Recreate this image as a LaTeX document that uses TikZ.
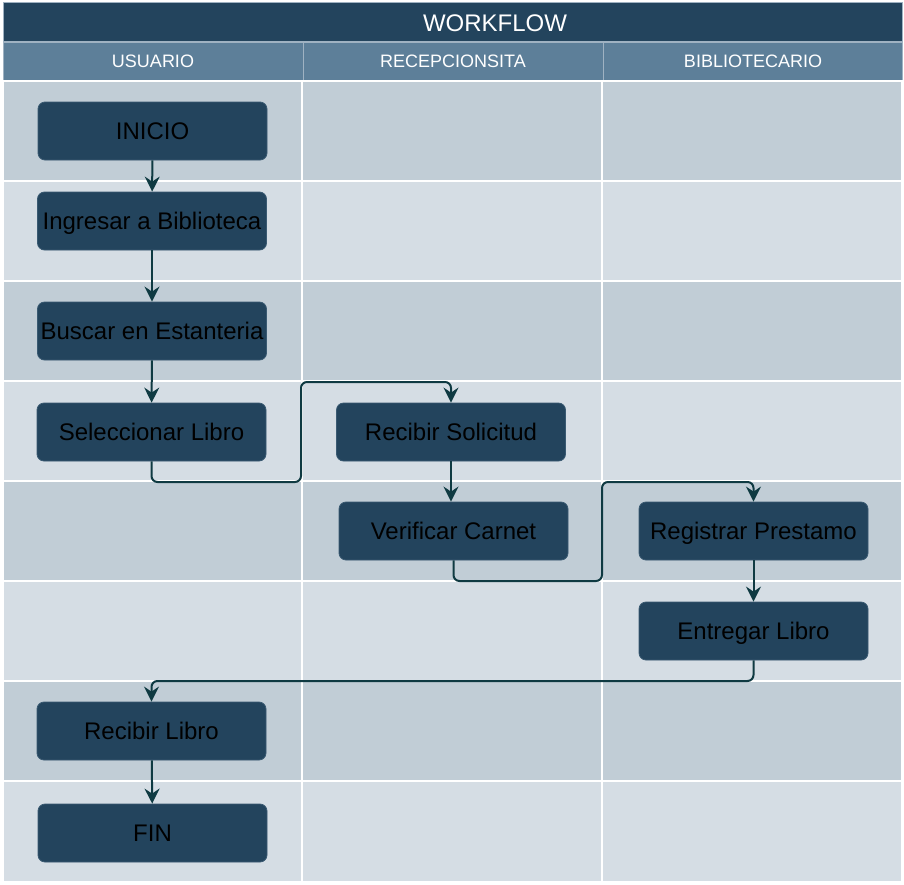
\documentclass[tikz,border=0pt]{standalone}
\usepackage{fontspec}
\setmainfont{Liberation Sans}
\usetikzlibrary{arrows.meta}
\definecolor{titlebg}{HTML}{23445D}
\definecolor{headbg}{HTML}{5D7F99}
\definecolor{rowdark}{HTML}{C1CDD6}
\definecolor{rowlight}{HTML}{D5DDE4}
\definecolor{boxfill}{HTML}{23445D}
\definecolor{boxedge}{HTML}{3A5A72}
\definecolor{linkcol}{HTML}{0F3A42}
\definecolor{frame}{HTML}{9FB2C2}
\tikzset{
  procbox/.style={rectangle, rounded corners=7pt, fill=boxfill, draw=boxedge, line width=0.8pt,
    minimum width=229pt, minimum height=58pt, inner sep=0pt, text=black,
    text height=17.2pt, text depth=0pt,
    font=\fontsize{24}{28}\selectfont},
  link/.style={draw=linkcol, line width=2pt, rounded corners=6pt,
    -{Stealth[length=15pt,width=15pt,inset=5pt]}},
  cellA/.style={fill=rowdark, draw=white, line width=1.6pt},
  cellB/.style={fill=rowlight, draw=white, line width=1.6pt},
  headcell/.style={fill=headbg, draw=frame, line width=1pt},
  headtxt/.style={text=white, font=\fontsize{18}{21}\selectfont},
}
\begin{document}
\begin{tikzpicture}[x=1pt,y=-1pt]
\useasboundingbox (0,0) rectangle (904,884);
\fill[white] (0,0) rectangle (904,884);
% title
\path[fill=titlebg, draw=frame, line width=1pt] (3,2) rectangle (902,41);
\node[text=white, font=\fontsize{24}{28}\selectfont] (title) at (495,23) {WORKFLOW};
% header
\path[headcell] (3,42) rectangle (303,80);
\path[headcell] (303,42) rectangle (603,80);
\path[headcell] (603,42) rectangle (902,80);
\node[headtxt] (h1) at (153,61) {USUARIO};
\node[headtxt] (h2) at (453,61) {RECEPCIONSITA};
\node[headtxt] (h3) at (753,61) {BIBLIOTECARIO};
% lanes
\foreach \t/\b/\s in {81/181/cellA,181/281/cellB,281/381/cellA,381/481/cellB,481/581/cellA,581/681/cellB,681/781/cellA,781/882/cellB}{
  \path[\s] (3,\t) rectangle (302,\b);
  \path[\s] (302,\t) rectangle (602,\b);
  \path[\s] (602,\t) rectangle (902,\b);
}
% boxes
\node[procbox] (ini) at (152.5,131) {INICIO};
\node[procbox] (ing) at (152,221) {Ingresar a Biblioteca};
\node[procbox] (bus) at (152,331) {Buscar en Estanteria};
\node[procbox] (sel) at (151.5,432) {Seleccionar Libro};
\node[procbox] (rso) at (451,432) {Recibir Solicitud};
\node[procbox] (ver) at (453.5,531) {Verificar Carnet};
\node[procbox] (reg) at (753.5,531) {Registrar Prestamo};
\node[procbox] (ent) at (753.5,631) {Entregar Libro};
\node[procbox] (rli) at (151.5,731) {Recibir Libro};
\node[procbox] (fin) at (152.5,833) {FIN};
% waypoints
\coordinate (w1) at (301,482);
\coordinate (w2) at (301,382);
\coordinate (w3) at (602,581);
\coordinate (w4) at (602,482);
\coordinate (w5) at (151.5,681);
% connectors
\draw[link] (ini) -- (ing);
\draw[link] (ing) -- (bus);
\draw[link] (bus) -- (sel);
\draw[link] (sel.south) |- (w1) -- (w2) -| (rso.north);
\draw[link] (rso.south) -- (rso.south |- ver.north);
\draw[link] (ver.south) |- (w3) -- (w4) -| (reg.north);
\draw[link] (reg) -- (ent);
\draw[link] (ent.south) |- (w5) -- (rli.north);
\draw[link] (rli) -- (fin);
\end{tikzpicture}
\end{document}
